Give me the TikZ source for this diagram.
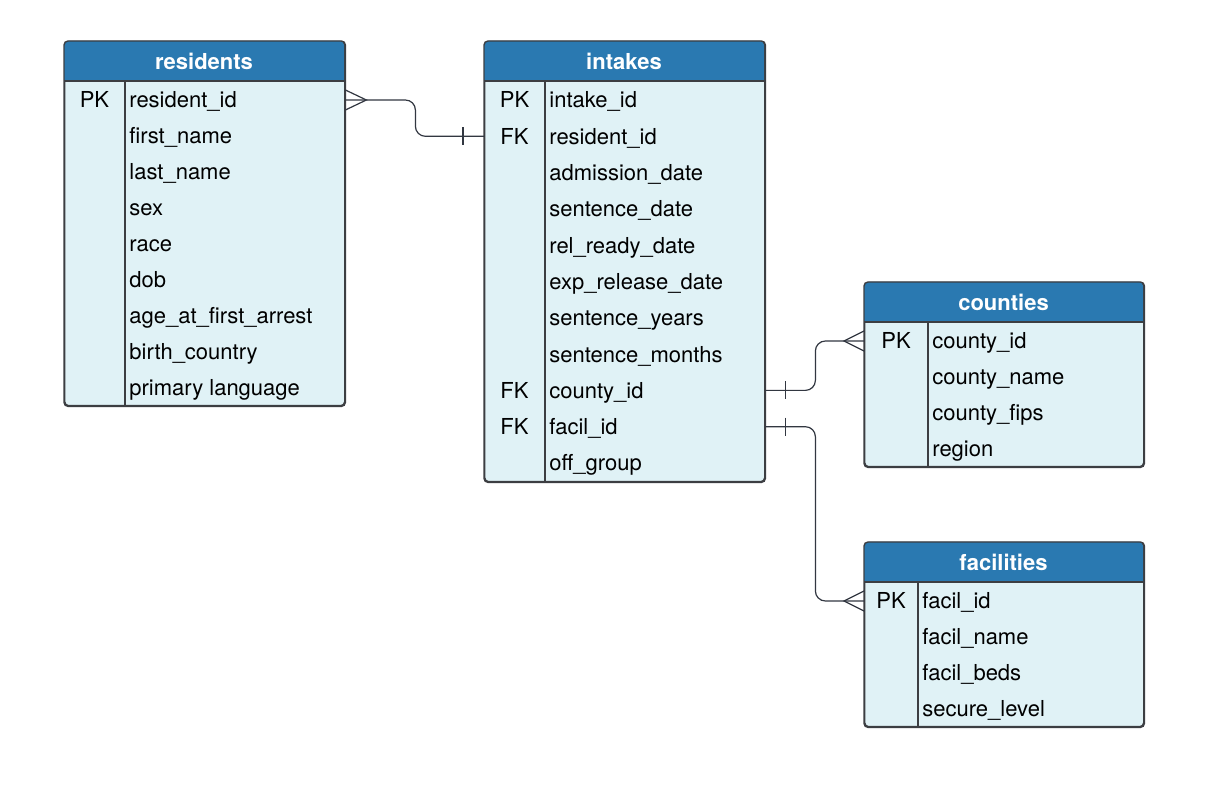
\documentclass[tikz,border=0pt]{standalone}
\usepackage{fontspec}
\setmainfont{TeX Gyre Heros}
\usepackage{tikz}
\definecolor{hdrblue}{RGB}{42,121,177}
\definecolor{rowfill}{RGB}{224,242,246}
\definecolor{edgegray}{RGB}{60,62,66}
\definecolor{linedark}{RGB}{50,55,65}
\tikzset{
  tbl/.style={draw=edgegray, fill=rowfill, rounded corners=2pt,
    line width=0.7pt, anchor=north west, inner sep=0pt},
  tbledge/.style={draw=edgegray, line width=0.7pt},
  tblhead/.style={fill=hdrblue},
  title/.style={font=\fontsize{11}{13}\selectfont\bfseries, text=white},
  field/.style={anchor=west, inner sep=0pt, font=\fontsize{11}{13}\selectfont,
    text height=9.5pt, text depth=1.5pt},
  keycol/.style={inner sep=0pt, font=\fontsize{11}{13}\selectfont,
    text height=9.5pt, text depth=1.5pt},
  conn/.style={draw=linedark, line width=0.6pt}
}
\begin{document}
\begin{tikzpicture}[x=0.5pt, y=-0.5pt]
  \useasboundingbox[fill=white] (0,0) rectangle (1223,791);

  % residents
  \node[tbl, minimum width=140pt, minimum height=182pt] (res) at (64,41) {};
  \fill[tblhead] (64,81) [rounded corners=2pt] -- (64,41) -- (344,41) [sharp corners] -- (344,81) -- cycle;
  \draw[tbledge] (64,81) -- (344,81);
  \draw[tbledge] (125,81) -- (125,405);
  \draw[tbledge, rounded corners=2pt] (res.north west) rectangle (res.south east);
  \node[title] (res-t) at (204,61) {residents};
  \node[keycol] (res-k1) at (94.5,100) {PK};
  \foreach \f [count=\i] in {resident\_id, first\_name, last\_name, sex, race, dob,
      age\_at\_first\_arrest, birth\_country, primary language} {
    \node[field] (res-\i) at (129,64+36*\i) {\f};
  }

  % intakes
  \node[tbl, minimum width=140pt, minimum height=220pt] (int) at (484,41) {};
  \fill[tblhead] (484,81) [rounded corners=2pt] -- (484,41) -- (764,41) [sharp corners] -- (764,81) -- cycle;
  \draw[tbledge] (484,81) -- (764,81);
  \draw[tbledge] (545,81) -- (545,481);
  \draw[tbledge, rounded corners=2pt] (int.north west) rectangle (int.south east);
  \node[title] (int-t) at (624,61) {intakes};
  \node[keycol] (int-k1) at (514.5,100) {PK};
  \node[keycol] (int-k2) at (514.5,136.3) {FK};
  \node[keycol] (int-k9) at (514.5,390.4) {FK};
  \node[keycol] (int-k10) at (514.5,426.7) {FK};
  \foreach \f [count=\i] in {intake\_id, resident\_id, admission\_date, sentence\_date,
      rel\_ready\_date, exp\_release\_date, sentence\_years, sentence\_months,
      county\_id, facil\_id, off\_group} {
    \node[field] (int-\i) at (549,63.7+36.3*\i) {\f};
  }

  % counties
  \node[tbl, minimum width=139.5pt, minimum height=92pt] (cty) at (864,282) {};
  \fill[tblhead] (864,322) [rounded corners=2pt] -- (864,282) -- (1143,282) [sharp corners] -- (1143,322) -- cycle;
  \draw[tbledge] (864,322) -- (1143,322);
  \draw[tbledge] (928,322) -- (928,466);
  \draw[tbledge, rounded corners=2pt] (cty.north west) rectangle (cty.south east);
  \node[title] (cty-t) at (1003.5,302) {counties};
  \node[keycol] (cty-k1) at (896,341) {PK};
  \foreach \f [count=\i] in {county\_id, county\_name, county\_fips, region} {
    \node[field] (cty-\i) at (932,305+36*\i) {\f};
  }

  % facilities
  \node[tbl, minimum width=139.5pt, minimum height=92pt] (fac) at (864,542) {};
  \fill[tblhead] (864,582) [rounded corners=2pt] -- (864,542) -- (1143,542) [sharp corners] -- (1143,582) -- cycle;
  \draw[tbledge] (864,582) -- (1143,582);
  \draw[tbledge] (918,582) -- (918,726);
  \draw[tbledge, rounded corners=2pt] (fac.north west) rectangle (fac.south east);
  \node[title] (fac-t) at (1003.5,562) {facilities};
  \node[keycol] (fac-k1) at (891,601) {PK};
  \foreach \f [count=\i] in {facil\_id, facil\_name, facil\_beds, secure\_level} {
    \node[field] (fac-\i) at (922,565+36*\i) {\f};
  }

  % relations
  \draw[conn, rounded corners=5pt] (res.east |- res-1) -- ++(70,0) |- (int.west |- int-2);
  \draw[conn] (res.east |- res-1) ++(0,-10) -- ++(21,10) -- ++(-21,10);
  \draw[conn] (int.west |- int-2) ++(-21,-9) -- ++(0,18);

  \draw[conn, rounded corners=5pt] (int.east |- int-9) -- ++(50,0) |- (cty.west |- cty-1);
  \draw[conn] (int.east |- int-9) ++(20,-9) -- ++(0,18);
  \draw[conn] (cty.west |- cty-1) ++(0,-10) -- ++(-20,10) -- ++(20,10);

  \draw[conn, rounded corners=5pt] (int.east |- int-10) -- ++(50,0) |- (fac.west |- fac-1);
  \draw[conn] (int.east |- int-10) ++(20,-9) -- ++(0,18);
  \draw[conn] (fac.west |- fac-1) ++(0,-10) -- ++(-20,10) -- ++(20,10);
\end{tikzpicture}
\end{document}
